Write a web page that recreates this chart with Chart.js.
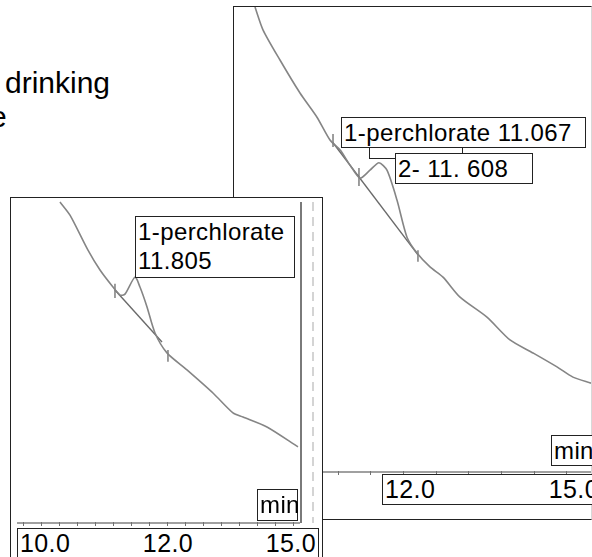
<!DOCTYPE html>
<html>
<head>
<meta charset="utf-8">
<script src="https://cdn.jsdelivr.net/npm/chart.js@4.4.1/dist/chart.umd.min.js"></script>
<style>
body { margin: 0; width: 592px; height: 557px; overflow: hidden; position: relative; background: #fff;
       font-family: "Liberation Sans", Arial, sans-serif; color: #000; }
.panel { position: absolute; background: #fff; box-sizing: border-box; border: 1px solid #222; }
#rightPanel { left: 233px; top: 6px; width: 359px; height: 514px; border-right-color: #d8d8d8; z-index: 1; }
#leftPanel { left: 10px; top: 197px; width: 313px; height: 370px; border-bottom: none; z-index: 3; }
.panel canvas { position: absolute; left: 0; top: 0; }
.box { position: absolute; box-sizing: border-box; border: 1px solid #222; background: #fff;
       font-size: 24px; line-height: 29px; white-space: nowrap; padding: 0 2px; letter-spacing: 0.4px; }
.conn { position: absolute; box-sizing: border-box; }
.ticks { display: flex; justify-content: space-between; font-size: 25px; }
.side { position: absolute; font-size: 30px; line-height: 30px; white-space: nowrap; }
</style>
</head>
<body>
<div class="side" style="left:5px;top:68px">drinking</div>
<div class="side" style="left:-10px;top:102px">e</div>

<div class="panel" id="rightPanel"><canvas id="rightChart" width="357" height="512"></canvas></div>
<div class="box" id="rightLabel1" style="left:341px;top:117px;width:245px;height:31px;z-index:2"></div>
<div class="box" id="rightLabel2" style="left:395px;top:153px;width:138px;height:31px;z-index:2"></div>
<div class="conn" style="left:369px;top:147px;width:27px;height:12px;border-left:1px solid #222;border-bottom:1px solid #222;z-index:2"></div>
<div class="conn" style="left:462px;top:147px;width:1px;height:6px;border-left:1px solid #222;z-index:2"></div>
<div class="box" id="rightMin" style="left:551px;top:435px;width:43px;height:31px;z-index:2"></div>
<div class="box ticks" id="rightTicks" style="left:382px;top:474px;width:220px;height:31px;z-index:2"></div>

<div class="panel" id="leftPanel"><canvas id="leftChart" width="311" height="359"></canvas></div>
<div class="box" id="leftLabel" style="left:135px;top:216px;width:160px;height:62px;z-index:4"></div>
<div class="box" id="leftMin" style="left:257px;top:489px;width:41px;height:32px;z-index:4"></div>
<div class="box ticks" id="leftTicks" style="left:17px;top:528px;width:302px;height:40px;z-index:4"></div>

<script>
// left chromatogram (retention time in min, detector signal in arbitrary units)
const leftTimes  = [10.763, 10.902, 11.152, 11.319, 11.499, 11.597, 11.666, 11.805, 11.874, 11.972,
                    12.083, 12.249, 12.527, 12.888, 13.166, 13.305, 13.638, 14.069];
const leftSignal = [100.0, 95.9, 85.0, 78.8, 73.5, 71.0, 71.3, 76.6, 73.5, 67.3,
                    59.2, 53.0, 47.7, 40.5, 34.3, 33.0, 29.9, 23.7];
const leftBaseTimes  = [11.527, 12.18];
const leftBaseSignal = [72.6, 56.4];
const leftMarkTimes  = [11.527, 11.527, null, 12.263, 12.263];
const leftMarkSignal = [74.5, 70.1, null, 53.9, 50.2];
const leftRuler = [10.25, 10.5, 10.75, 11.0, 11.25, 11.5, 11.75, 12.0, 12.25, 12.5, 12.75,
                   13.0, 13.25, 13.5, 13.75, 14.0];
const leftTickLabels = ['10.0', '12.0', '15.0'];
const leftPeakLabel = ['1-perchlorate', '11.805'];

// right chromatogram
const rightTimes  = [9.737, 9.859, 10.119, 10.425, 10.685, 10.884, 11.037, 11.19, 11.343, 11.495,
                     11.633, 11.755, 11.908, 12.061, 12.214, 12.413, 12.612, 12.872, 13.284, 13.636,
                     13.988, 14.355, 14.599, 14.875];
const rightSignal = [100.0, 95.1, 88.6, 81.5, 76.3, 71.4, 69.3, 66.0, 63.2, 64.9,
                     66.5, 64.9, 58.5, 50.5, 47.1, 44.1, 41.9, 37.6, 33.3, 28.4,
                     25.6, 22.6, 20.4, 19.1];
const rightBaseTimes  = [10.93, 12.229];
const rightBaseSignal = [70.8, 46.7];
const rightMarkTimes  = [10.93, 10.93, null, 11.327, 11.327, null, 12.229, 12.229];
const rightMarkSignal = [72.7, 69.9, null, 65.4, 61.5, null, 47.7, 45.2];
const rightRuler = [9.5, 10.0, 10.5, 11.0, 11.5, 12.0, 12.5, 13.0, 13.5, 14.0, 14.5];
const rightTickLabels = ['12.0', '15.0'];
const rightPeakLabels = ['1-perchlorate 11.067', '2- 11. 608'];
const unitLabel = 'min';

function pairs(xs, ys) {
    return xs.map((x, i) => ({ x: x, y: ys[i] }));
}

// ruler along the time axis, plus the end-of-run lines on the left trace
const rulerPlugin = {
    id: 'ruler',
    afterDraw(chart, args, opts) {
        const ctx = chart.ctx;
        const a = chart.chartArea;
        const x = chart.scales.x;
        ctx.save();
        ctx.strokeStyle = '#a0a0a0';
        ctx.lineWidth = 2;
        ctx.beginPath();
        ctx.moveTo(a.left, a.bottom);
        ctx.lineTo(a.right, a.bottom);
        ctx.stroke();
        ctx.strokeStyle = '#707070';
        ctx.lineWidth = 1;
        opts.ticks.forEach(v => {
            const px = Math.round(x.getPixelForValue(v)) + 0.5;
            ctx.beginPath();
            ctx.moveTo(px, a.bottom - 1);
            ctx.lineTo(px, a.bottom + 3);
            ctx.stroke();
        });
        if (opts.endLines) {
            ctx.strokeStyle = '#7a7a7a';
            ctx.lineWidth = 2;
            ctx.beginPath();
            ctx.moveTo(a.right + 1, a.top);
            ctx.lineTo(a.right + 1, a.bottom);
            ctx.stroke();
            ctx.strokeStyle = '#d4d4d4';
            ctx.setLineDash([9, 6]);
            ctx.beginPath();
            ctx.moveTo(a.right + 13, a.top);
            ctx.lineTo(a.right + 13, a.bottom);
            ctx.stroke();
        }
        ctx.restore();
    }
};

function makeChart(id, curve, base, marks, xmin, xmax, padding, ruler, endLines) {
    return new Chart(document.getElementById(id), {
        type: 'line',
        data: {
            datasets: [
                { data: curve, borderColor: '#858585', borderWidth: 1.6, pointRadius: 0, tension: 0.25, clip: false },
                { data: base, borderColor: '#6a6a6a', borderWidth: 1.4, pointRadius: 0, clip: false },
                { data: marks, borderColor: '#6a6a6a', borderWidth: 1.3, pointRadius: 0, spanGaps: false, clip: false }
            ]
        },
        options: {
            responsive: false,
            animation: false,
            layout: { padding: padding },
            plugins: { legend: { display: false }, tooltip: { enabled: false }, ruler: { ticks: ruler, endLines: endLines } },
            scales: {
                x: { type: 'linear', min: xmin, max: xmax, display: false },
                y: { min: 0, max: 100, display: false }
            }
        },
        plugins: [rulerPlugin]
    });
}

makeChart('leftChart', pairs(leftTimes, leftSignal), pairs(leftBaseTimes, leftBaseSignal),
    pairs(leftMarkTimes, leftMarkSignal), 10.166, 14.097,
    { left: 6, right: 22, top: 4, bottom: 34 }, leftRuler, true);

makeChart('rightChart', pairs(rightTimes, rightSignal), pairs(rightBaseTimes, rightBaseSignal),
    pairs(rightMarkTimes, rightMarkSignal), 9.416, 14.875,
    { left: 0, right: 0, top: 0, bottom: 47 }, rightRuler, false);

// text boxes
document.getElementById('leftLabel').innerHTML = leftPeakLabel.join('<br>');
document.getElementById('rightLabel1').textContent = rightPeakLabels[0];
document.getElementById('rightLabel2').textContent = rightPeakLabels[1];
document.getElementById('leftMin').textContent = unitLabel;
document.getElementById('rightMin').textContent = unitLabel;
function fillTicks(id, labels) {
    const el = document.getElementById(id);
    labels.forEach(t => {
        const s = document.createElement('span');
        s.textContent = t;
        el.appendChild(s);
    });
}
fillTicks('leftTicks', leftTickLabels);
fillTicks('rightTicks', rightTickLabels);
</script>
</body>
</html>
